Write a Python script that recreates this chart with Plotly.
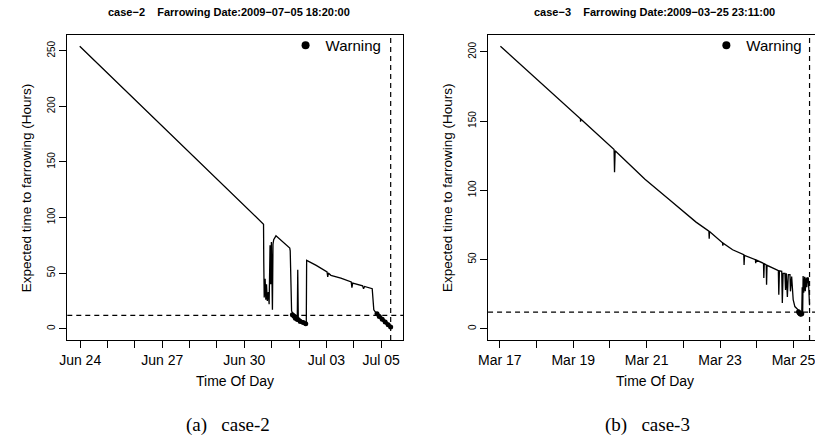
import pandas as pd
import plotly.graph_objects as go

# ---------------- data: case-2 ----------------
case2_start = "2009-06-24 09:38"
case2_farrowing = "2009-07-05 18:20"
case2_hours = [0, 161.2, 161.4, 161.8, 162.6, 163.2, 163.8, 164.5, 165.4, 166.1,
               166.9, 167.5, 168.1, 169.0, 169.5, 170.1, 172.1, 184.2, 184.6, 185.2,
               185.8, 187.2, 188.0, 189.3, 190.8, 191.2, 191.7, 193.5, 196.1, 198.3,
               198.7, 199.0, 207.4, 214.3, 216.9, 217.5, 218.0, 220.3, 229.0, 238.1,
               238.7, 239.4, 243.7, 248.1, 248.9, 249.8, 256.5, 257.9, 259.3, 260.7,
               263.7, 268.0, 272.7]
case2_values = [254, 94, 60, 28, 45, 26, 40, 25, 33, 22,
                75, 40, 78, 17, 76, 80, 83.5, 72.5, 70, 40,
                16, 13, 11.5, 9.5, 8.5, 53, 8, 6.5, 5.5, 4.5,
                6, 61.5, 57, 52.5, 51, 46.5, 50, 48, 45.5, 42,
                37, 41, 39.5, 38.5, 36, 38, 36, 17, 15, 13.5,
                10, 6, 1.5]
case2_warn_hours = [186.5, 187.8, 189.1, 190.6, 191.7, 193.4, 196.0, 198.2, None,
                    260.7, 262.7, 265.3, 267.9, 270.5, 272.7]
case2_warn_values = [12.5, 11.5, 9.5, 8.5, 8, 6.5, 5.5, 4.5, None,
                     13.5, 11, 8.5, 6, 3.5, 1.5]
case2_tick_days = ["2009-06-24", "2009-06-25", "2009-06-26", "2009-06-27", "2009-06-28",
                   "2009-06-29", "2009-06-30", "2009-07-01", "2009-07-02", "2009-07-03",
                   "2009-07-04", "2009-07-05"]
case2_tick_labels = ["Jun 24", "", "", "Jun 27", "", "", "Jun 30", "", "", "Jul 03", "", "Jul 05"]
case2_tick_clock = "10:00"

# ---------------- data: case-3 ----------------
case3_start = "2009-03-17 13:05"
case3_farrowing = "2009-03-25 23:11"
case3_hours = [0, 52.3, 52.4, 52.5, 74.3, 74.6, 75.0, 94.5, 110.7, 118.2,
               127.9, 136.3, 136.5, 136.7, 145.2, 145.4, 145.6, 151.8, 159.1, 159.3,
               159.6, 166.7, 166.9, 167.2, 172.0, 172.2, 172.5, 173.8, 174.0, 174.3,
               180.7, 181.7, 182.0, 182.4, 183.9, 184.3, 184.8, 186.0, 186.4, 186.9,
               187.6, 188.2, 189.3, 189.6, 190.4, 191.4, 192.5, 194.6, 195.1, 195.7,
               196.4, 197.0, 197.3, 197.6, 197.9, 198.3, 198.9, 199.3, 199.9, 200.3,
               200.8, 201.3, 201.7, 202.1]
case3_values = [204, 151.7, 149.5, 151.5, 129.5, 113, 128.5, 108, 93, 86,
                77, 70.5, 65, 70.2, 62, 60, 61.8, 57, 53.4, 46,
                53, 49.8, 47.4, 49.6, 47.2, 36.6, 47, 46, 31.7, 45.8,
                42.5, 42, 24.5, 41.8, 41.5, 18.5, 40, 40, 28, 40,
                23, 39, 39, 27, 37.7, 20.9, 16, 13.7, 12, 11,
                10.5, 10.8, 30, 12, 38, 26, 37.5, 27, 37, 30,
                37, 36.5, 20, 17]
case3_warn_hours = [194.9, 195.4, 195.9, 196.4, 197.0]
case3_warn_values = [12.2, 11.3, 10.8, 10.4, 10.8]
case3_tick_days = ["2009-03-17", "2009-03-18", "2009-03-19", "2009-03-20", "2009-03-21",
                   "2009-03-22", "2009-03-23", "2009-03-24", "2009-03-25"]
case3_tick_labels = ["Mar 17", "", "Mar 19", "", "Mar 21", "", "Mar 23", "", "Mar 25"]
case3_tick_clock = "12:40"

threshold_hours = 12

W, H = 815, 441
SANS = "Liberation Sans, Arial, Helvetica, sans-serif"
SERIF = "Liberation Serif, Times New Roman, serif"


def to_times(start, hours):
    s = pd.Timestamp(start)
    return [None if h is None else s + pd.Timedelta(hours=h) for h in hours]


fig = go.Figure()

panels = [
    dict(sfx="", start=case2_start, farrow=case2_farrowing, hrs=case2_hours, vals=case2_values,
         whrs=case2_warn_hours, wvals=case2_warn_values, tdays=case2_tick_days,
         tlabels=case2_tick_labels, tclock=case2_tick_clock, left=58, right=398, leg="legend",
         title="case\u22122\u00a0\u00a0\u00a0\u00a0Farrowing Date:2009\u221207\u221205 18:20:00",
         title_x=222, caption="(a)\u00a0\u00a0 case-2", cap_x=221, yticks=[0, 50, 100, 150, 200, 250]),
    dict(sfx="2", start=case3_start, farrow=case3_farrowing, hrs=case3_hours, vals=case3_values,
         whrs=case3_warn_hours, wvals=case3_warn_values, tdays=case3_tick_days,
         tlabels=case3_tick_labels, tclock=case3_tick_clock, left=484, right=822, leg="legend2",
         title="case\u22123\u00a0\u00a0\u00a0\u00a0Farrowing Date:2009\u221203\u221225 23:11:00",
         title_x=653, caption="(b)\u00a0\u00a0 case-3", cap_x=645, yticks=[0, 50, 100, 150, 200]),
]

top_px, bot_px = 35, 340
ydom = [1 - bot_px / H, 1 - top_px / H]
annotations = []
shapes = []

for p in panels:
    xa = "x" + p["sfx"]
    ya = "y" + p["sfx"]
    times = to_times(p["start"], p["hrs"])
    wtimes = to_times(p["start"], p["whrs"])
    fig.add_trace(go.Scatter(x=times, y=p["vals"], mode="lines",
                             line=dict(color="black", width=1.3),
                             xaxis=xa, yaxis=ya, showlegend=False, hoverinfo="skip"))
    fig.add_trace(go.Scatter(x=wtimes, y=p["wvals"], mode="lines+markers",
                             line=dict(color="black", width=3.5),
                             marker=dict(color="black", size=5),
                             connectgaps=False,
                             xaxis=xa, yaxis=ya, showlegend=False, hoverinfo="skip"))
    fig.add_trace(go.Scatter(x=[None], y=[None], mode="markers", name="Warning",
                             marker=dict(color="black", size=8),
                             xaxis=xa, yaxis=ya, legend=p["leg"], showlegend=True))

    t0 = pd.Timestamp(p["start"])
    t1 = pd.Timestamp(p["farrow"])
    span = t1 - t0
    r0 = t0 - 0.04 * span
    r1 = t1 + 0.04 * span
    right_clip = min(p["right"], W)
    frac = (right_clip - p["left"]) / (p["right"] - p["left"])
    r1v = r0 + (r1 - r0) * frac
    tickvals = [pd.Timestamp(d + " " + p["tclock"]) for d in p["tdays"]]

    ymax = max(p["vals"])
    yr = [-0.04 * ymax, ymax * 1.04]

    xdom = [p["left"] / W, right_clip / W]
    axis_common = dict(showgrid=False, zeroline=False, showline=True, linecolor="black",
                       linewidth=1, ticks="outside", ticklen=7, tickwidth=1, tickcolor="black")
    fig.update_layout(**{
        "xaxis" + p["sfx"]: dict(domain=xdom, anchor=ya, type="date",
                                 range=[r0, r1v], tickmode="array", tickvals=tickvals,
                                 ticktext=p["tlabels"], mirror=True,
                                 tickfont=dict(family=SANS, size=14, color="black"),
                                 ticklabeloverflow="allow", **axis_common),
        "yaxis" + p["sfx"]: dict(domain=ydom, anchor=xa, range=yr, tickmode="array",
                                 tickvals=p["yticks"], ticktext=[str(v) for v in p["yticks"]],
                                 tickangle=-90, mirror=(p["sfx"] == ""),
                                 tickfont=dict(family=SANS, size=10, color="black"),
                                 **axis_common),
    })

    shapes.append(dict(type="line", xref=xa, yref=ya + " domain", x0=t1, x1=t1, y0=0, y1=1,
                       line=dict(color="black", width=1.2, dash="5px,4px")))
    shapes.append(dict(type="line", xref=xa + " domain", yref=ya, x0=0, x1=1,
                       y0=threshold_hours, y1=threshold_hours,
                       line=dict(color="black", width=1.2, dash="5px,4px")))

    cx = (p["left"] + p["right"]) / 2
    annotations.append(dict(text="<b>" + p["title"] + "</b>", x=p["title_x"] / W, y=1 - 12 / H,
                            xref="paper", yref="paper", showarrow=False, xanchor="center",
                            yanchor="middle", font=dict(family=SANS, size=11, color="black")))
    annotations.append(dict(text="Time Of Day", x=cx / W, y=1 - 381 / H, xref="paper",
                            yref="paper", showarrow=False, xanchor="center", yanchor="middle",
                            font=dict(family=SANS, size=14, color="black")))
    annotations.append(dict(text="Expected time to farrowing (Hours)", x=(p["left"] - 41.5) / W,
                            y=1 - 188 / H, xref="paper", yref="paper", showarrow=False,
                            textangle=-90, xanchor="center", yanchor="middle",
                            font=dict(family=SANS, size=13.5, color="black")))
    annotations.append(dict(text=p["caption"], x=p["cap_x"] / W, y=1 - 425 / H, xref="paper",
                            yref="paper", showarrow=False, xanchor="center", yanchor="middle",
                            font=dict(family=SERIF, size=19, color="black")))

leg_common = dict(bgcolor="rgba(0,0,0,0)", borderwidth=0, itemwidth=30,
                  font=dict(family=SANS, size=15, color="black"),
                  xanchor="left", yanchor="top", xref="paper", yref="paper")
fig.update_layout(
    width=W, height=H,
    margin=dict(l=0, r=0, t=0, b=0),
    paper_bgcolor="white", plot_bgcolor="white",
    legend=dict(x=279 / W, y=1 - 29 / H, **leg_common),
    legend2=dict(x=705 / W, y=1 - 29 / H, **leg_common),
    shapes=shapes,
    annotations=annotations,
)

fig.write_html("out.html")
